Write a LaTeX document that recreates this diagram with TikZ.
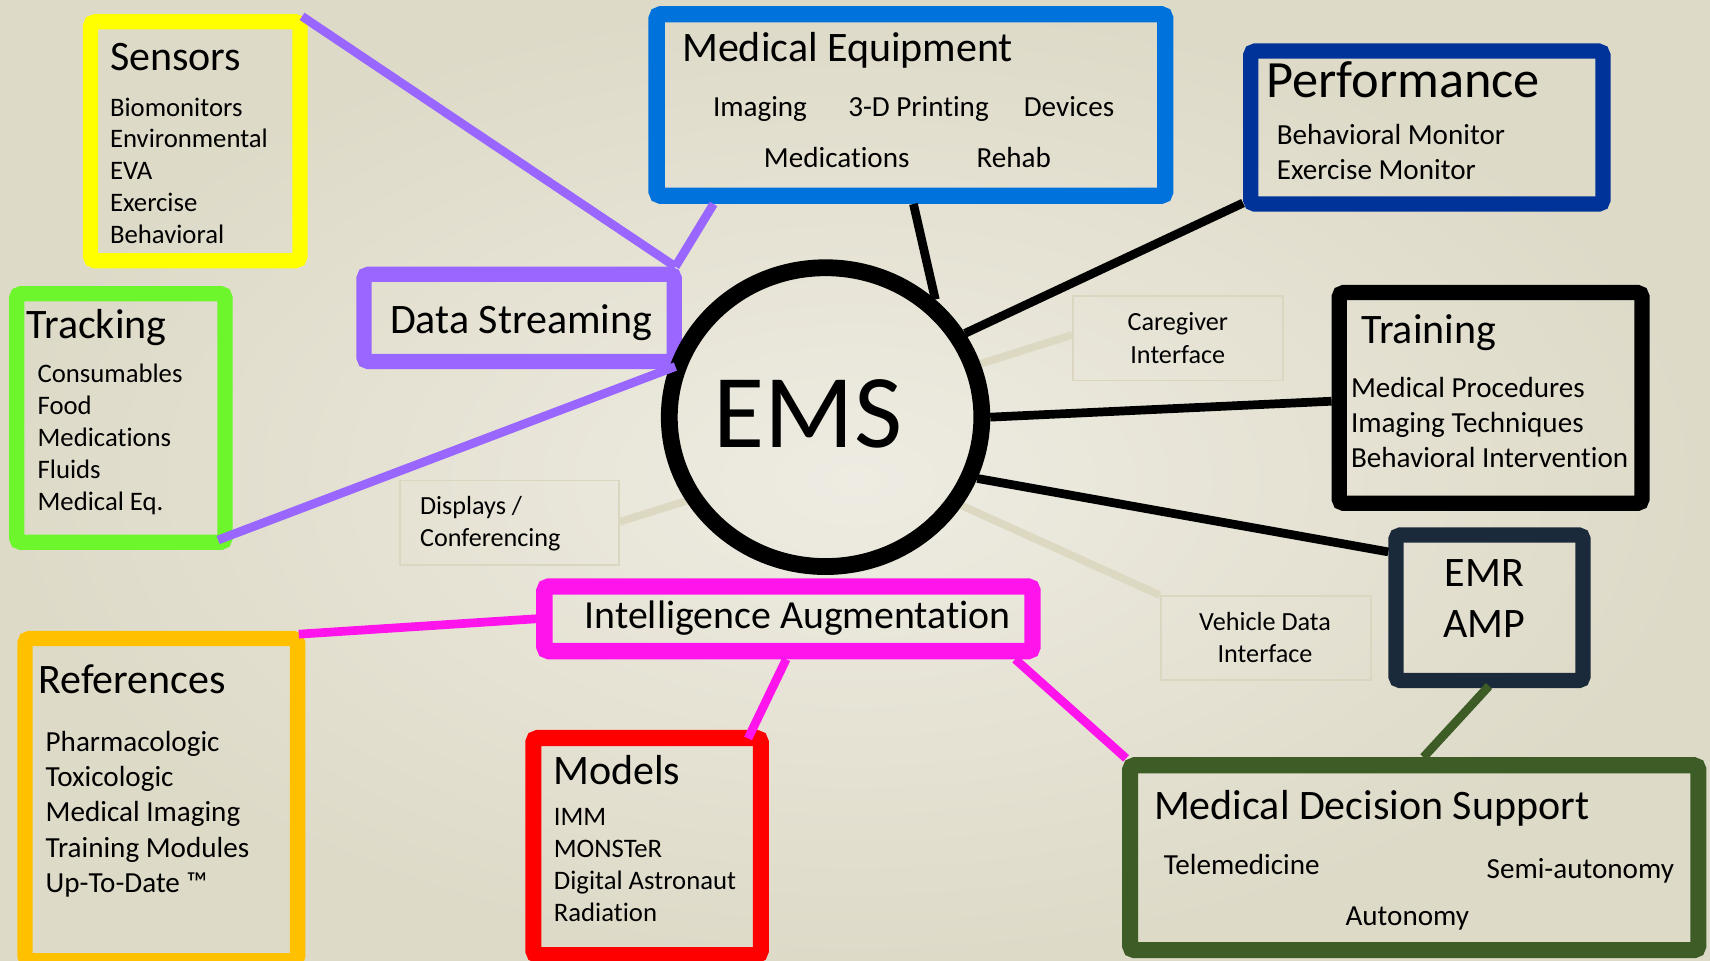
\documentclass[tikz,border=0pt]{standalone}
\usepackage{fontspec}
\setmainfont{Carlito}[Ligatures=NoCommon]
\usetikzlibrary{calc,shapes.geometric}
\definecolor{bgin}{RGB}{238,236,226}
\definecolor{bgout}{RGB}{222,218,200}
\definecolor{cyel}{RGB}{255,255,0}
\definecolor{cgrn}{RGB}{108,246,43}
\definecolor{cpur}{RGB}{153,102,255}
\definecolor{cblu}{RGB}{0,114,220}
\definecolor{cdbl}{RGB}{0,51,153}
\definecolor{cnav}{RGB}{27,42,58}
\definecolor{cmds}{RGB}{61,92,38}
\definecolor{cred}{RGB}{255,0,0}
\definecolor{corg}{RGB}{255,192,0}
\definecolor{cmag}{RGB}{255,20,236}
\definecolor{cbei}{RGB}{220,216,193}
\definecolor{clbl}{RGB}{218,214,192}
\begin{document}
\begin{tikzpicture}[x=1pt,y=-1pt,
  bx/.style={draw, rectangle, line width=14pt, rounded corners=4pt, inner sep=0pt},
  lbl/.style={draw=clbl, rectangle, line width=1.5pt, inner sep=0pt},
  ttl/.style={anchor=base west, inner sep=0pt, font=\fontsize{38.5}{46}\selectfont},
  itm/.style={anchor=base west, inner sep=0pt, font=\fontsize{24.5}{29}\selectfont},
  itmb/.style={anchor=base west, inner sep=0pt, font=\fontsize{26.7}{32}\selectfont},
  lbt/.style={anchor=base, inner sep=0pt, font=\fontsize{24}{29}\selectfont},
  cn/.style={line width=8pt},
  bcn/.style={line width=7pt, draw=cbei}]
\useasboundingbox (0,0) rectangle (1568,881);
\shade[inner color=bgin, outer color=bgout] (0,0) rectangle (1568,881);

% boxes
\node[bx, draw=cyel, minimum width=192, minimum height=219] (sensors) at (179,129.5) {};
\node[bx, draw=cgrn, minimum width=191, minimum height=228] (tracking) at (110.8,383.3) {};
\node[bx, draw=cpur, minimum width=284.6, minimum height=80] (ds) at (476,291.5) {};
\node[bx, draw=cblu, line width=15pt, minimum width=466.4, minimum height=166.5] (me) at (835.3,96.3) {};
\node[bx, draw=cdbl, minimum width=323, minimum height=140.3] (perf) at (1308.3,117) {};
\node[bx, draw=black, minimum width=277.6, minimum height=193.2] (train) at (1366.8,364.9) {};
\node[bx, draw=cnav, minimum width=171.6, minimum height=133.5] (emr) at (1365.8,557.3) {};
\node[bx, draw=cmds, line width=14.7pt, minimum width=521, minimum height=169.6] (mds) at (1296.8,786.5) {};
\node[bx, draw=cred, line width=14.7pt, minimum width=208.6, minimum height=199] (models) at (593.3,776.2) {};
\node[bx, draw=corg, minimum width=250, minimum height=295.4] (refs) at (147.9,733.2) {};
\node[bx, draw=cmag, line width=15pt, minimum width=447.6, minimum height=59.2] (ia) at (723,567.4) {};
\node[lbl, minimum width=192.7, minimum height=77.6] (care) at (1080,310.2) {};
\node[lbl, minimum width=201, minimum height=77.3] (disp) at (467.2,479.4) {};
\node[lbl, minimum width=193, minimum height=77] (veh) at (1160.8,585) {};

% EMS ellipse (outline drawn after its light connectors)
\node[ellipse, inner sep=0pt, minimum width=286.6, minimum height=274, line width=15.4pt] (ems) at (757,382.5) {};
\draw[bcn] (ems.19.7) -- ($(care.west)+(0,-3)$);
\draw[bcn] (ems.211.9) -- ($(disp.east)+(0,-1)$);
\draw[bcn] (ems.-33.5) -- (veh.north west);
\node[draw=black, ellipse, inner sep=0pt, minimum width=286.6, minimum height=274, line width=15.4pt] (emsring) at (ems.center) {};

% black connectors
\draw[cn] ($(me.south west)+(243,0)$) -- (ems.47);
\draw[cn] ($(perf.south west)+(0,-8)$) -- (ems.31);
\draw[cn] (ems.0.4) -- ($(train.west)+(0,3)$);
\draw[cn] (ems.-22.5) -- ($(emr.north west)+(0,22.5)$);

% coloured connectors
\draw[cn, cpur] ($(sensors.north east)+(-5,2)$) -- ($(ds.north east)+(-6,0)$);
\draw[cn, cpur] ($(ds.north east)+(-6,0)$) -- ($(me.south west)+(59.7,0)$);
\draw[cn, cpur] ($(ds.south east)+(-6,-2.4)$) -- ($(tracking.south east)+(-13.3,-9.2)$);
\draw[cn, cmag] (ia.west) -- ($(refs.north east)+(-6,3)$);
\draw[cn, cmag] ($(ia.south west)+(229.2,0)$) -- ($(models.north west)+(204.3,7.7)$);
\draw[cn, cmag] ($(ia.south east)+(-23.4,0)$) -- ($(mds.north west)+(3.6,1)$);
\draw[cn, cmds] ($(emr.south)+(-0.5,-2)$) -- ($(mds.north west)+(276.3,0)$);

% texts
\node[anchor=base, inner sep=0pt, font=\fontsize{96}{110}\selectfont] (emst) at (741,410.5) {EMS};

\node[ttl] (t-sen) at (100.7,64.8) {Sensors};
\foreach \t [count=\i] in {Biomonitors,Environmental,EVA,Exercise,Behavioral}
  \node[itm] (sen-\i) at (100.7,{106.4+29.15*(\i-1)}) {\t};

\node[ttl] (t-trk) at (24,310.2) {Tracking};
\foreach \t [count=\i] in {Consumables,Food,Medications,Fluids,Medical Eq.}
  \node[itm] (trk-\i) at (34.3,{351+29.3*(\i-1)}) {\t};

\node[ttl] (t-ds) at (357.5,305.6) {Data Streaming};

\node[ttl] (t-me) at (625.3,56.5) {Medical Equipment};
\node[itmb] (me-1) at (653.6,107) {Imaging};
\node[itmb] (me-2) at (777.6,107) {3-D Printing};
\node[itmb] (me-3) at (938.6,107) {Devices};
\node[itmb] (me-4) at (700.3,153.4) {Medications};
\node[itmb] (me-5) at (895.3,153.4) {Rehab};

\node[anchor=base west, inner sep=0pt, font=\fontsize{48}{56}\selectfont] (t-perf) at (1161,89.6) {Performance};
\node[itmb] (perf-1) at (1170.6,132.3) {Behavioral Monitor};
\node[itmb] (perf-2) at (1170.6,164.4) {Exercise Monitor};

\node[ttl] (t-train) at (1248,315.4) {Training};
\node[itmb] (train-1) at (1238.6,364.3) {Medical Procedures};
\node[itmb] (train-2) at (1238.6,396.7) {Imaging Techniques};
\node[itmb] (train-3) at (1238.6,428.8) {Behavioral Intervention};

\node[anchor=base, inner sep=0pt, font=\fontsize{38.5}{46}\selectfont] (t-emr1) at (1361,537.9) {EMR};
\node[anchor=base, inner sep=0pt, font=\fontsize{38.5}{46}\selectfont] (t-emr2) at (1361,585) {AMP};

\node[lbt] (care-1) at (1080,303.5) {Caregiver};
\node[lbt] (care-2) at (1080,333.1) {Interface};
\node[lbt, anchor=base west] (disp-1) at (385,472.2) {Displays /};
\node[lbt, anchor=base west] (disp-2) at (385,501.3) {Conferencing};
\node[lbt] (veh-1) at (1160,577.7) {Vehicle Data};
\node[lbt] (veh-2) at (1160,607.6) {Interface};

\node[anchor=base west, inner sep=0pt, font=\fontsize{36.5}{44}\selectfont] (t-ia) at (535.9,576.1) {Intelligence Augmentation};

\node[ttl] (t-refs) at (35,635.7) {References};
\foreach \t [count=\i] in {Pharmacologic,Toxicologic,Medical Imaging,Training Modules,Up-To-Date ™}
  \node[itmb] (refs-\i) at (41.7,{689.2+32.25*(\i-1)}) {\t};

\node[ttl] (t-mod) at (507,719.8) {Models};
\foreach \t [count=\i] in {IMM,MONSTeR,Digital Astronaut,Radiation}
  \node[itm] (mod-\i) at (507.7,{757+29.4*(\i-1)}) {\t};

\node[ttl] (t-mds) at (1058,751.8) {Medical Decision Support};
\node[itmb] (mds-1) at (1067,802.3) {Telemedicine};
\node[itmb] (mds-2) at (1363,805.3) {Semi-autonomy};
\node[itmb] (mds-3) at (1233.6,849) {Autonomy};
\end{tikzpicture}
\end{document}
